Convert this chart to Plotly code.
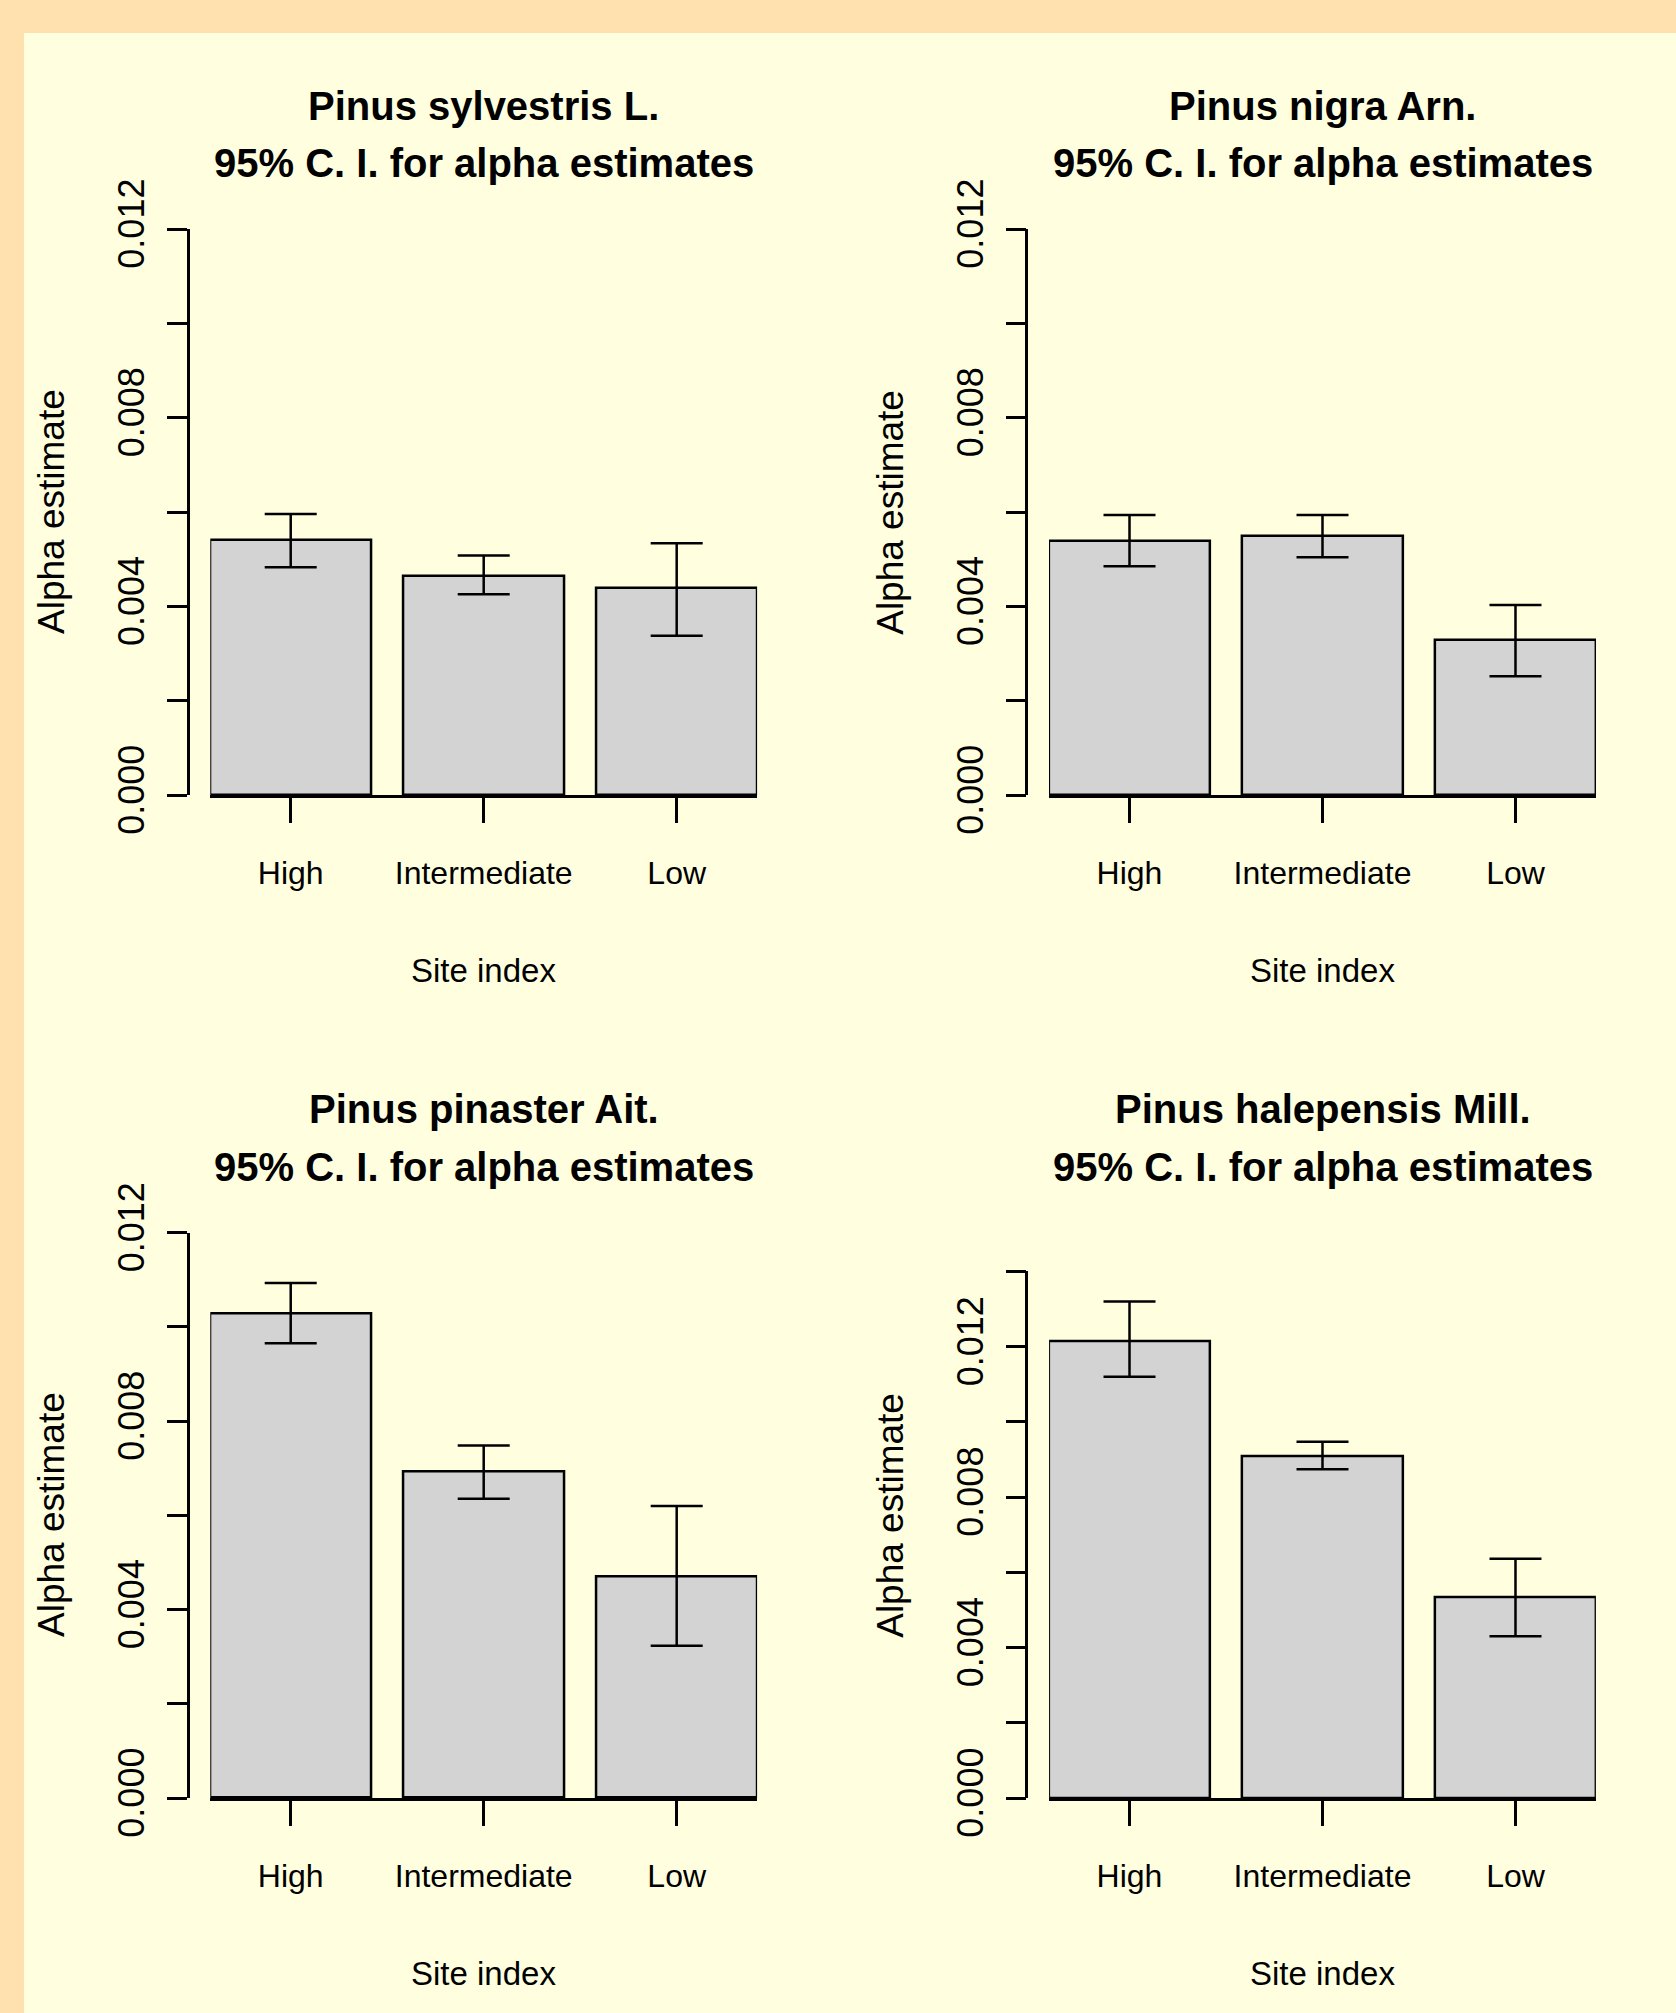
import numpy as np
import plotly.graph_objects as go

W, H = 1676, 2013

# ---------------- data ----------------
categories = ["High", "Intermediate", "Low"]
species = ["Pinus sylvestris L.", "Pinus nigra Arn.", "Pinus pinaster Ait.", "Pinus halepensis Mill."]
subtitle = "95% C. I. for alpha estimates"

sylvestris_est = [0.00541, 0.00464, 0.00438]
sylvestris_lo = [0.00483, 0.00426, 0.00338]
sylvestris_hi = [0.00596, 0.00508, 0.00534]

nigra_est = [0.00538, 0.00550, 0.00328]
nigra_lo = [0.00485, 0.00504, 0.00252]
nigra_hi = [0.00594, 0.00594, 0.00403]

pinaster_est = [0.01028, 0.00692, 0.00469]
pinaster_lo = [0.00965, 0.00635, 0.00323]
pinaster_hi = [0.01093, 0.00748, 0.00620]

halepensis_est = [0.01215, 0.00907, 0.00533]
halepensis_lo = [0.01120, 0.00874, 0.00430]
halepensis_hi = [0.01320, 0.00947, 0.00636]

y_axis_max = [0.012, 0.012, 0.012, 0.014]
y_tick_step = 0.002

x_title = "Site index"
y_title = "Alpha estimate"

panels = [
    (sylvestris_est, sylvestris_lo, sylvestris_hi),
    (nigra_est, nigra_lo, nigra_hi),
    (pinaster_est, pinaster_lo, pinaster_hi),
    (halepensis_est, halepensis_lo, halepensis_hi),
]

# ---------------- layout geometry (pixels) ----------------
col_axis_x = [187.5, 1026.3]
col_bar_left = [210.3, 1049.1]
col_bar_right = [757.1, 1595.9]
row_zero_y = [795.1, 1798.0]
row_offset = [0.0, 1003.0]
panel_top_y = [229.0, 229.0, 1232.6, 1271.3]

FONT = "Liberation Sans, Arial, sans-serif"
OUTER = "#FFE1B0"
INNER = "#FFFFE0"
BAR_W = 1 / 1.2


def px(x):
    return x / W


def py(y):
    return 1 - y / H


fig = go.Figure()
annotations = []

for i, (est, lo, hi) in enumerate(panels):
    r, c = divmod(i, 2)
    n = i + 1
    xa = "x" if n == 1 else f"x{n}"
    ya = "y" if n == 1 else f"y{n}"
    err_plus = [h - e for h, e in zip(hi, est)]
    err_minus = [e - l for e, l in zip(est, lo)]
    fig.add_trace(go.Bar(
        x=categories, y=est, width=BAR_W,
        marker=dict(color="#D3D3D3", line=dict(color="black", width=2.5)),
        error_y=dict(type="data", symmetric=False, array=err_plus, arrayminus=err_minus,
                     color="black", thickness=2.5, width=26),
        xaxis=xa, yaxis=ya, showlegend=False, hoverinfo="skip",
    ))
    ymax = y_axis_max[i]
    tickvals = list(np.round(np.arange(0, ymax + 1e-9, y_tick_step), 4))
    ticktext = [f"{v:.3f}" if k % 2 == 0 else "" for k, v in enumerate(tickvals)]
    xkey = "xaxis" if n == 1 else f"xaxis{n}"
    ykey = "yaxis" if n == 1 else f"yaxis{n}"
    fig.update_layout(**{
        xkey: dict(
            domain=[px(col_bar_left[c]), px(col_bar_right[c])],
            range=[-BAR_W / 2, len(categories) - 1 + BAR_W / 2],
            anchor=ya, showline=True, linecolor="black", linewidth=2.5,
            ticks="outside", ticklen=25, tickwidth=2.5, tickcolor="black",
            showgrid=False, zeroline=False, fixedrange=True, automargin=False,
            tickfont=dict(family=FONT, size=32, color="black"),
            ticklabelstandoff=23,
        ),
        ykey: dict(
            domain=[py(row_zero_y[r]), py(panel_top_y[i])],
            range=[0, ymax], anchor="free", position=px(col_axis_x[c]),
            showline=True, linecolor="black", linewidth=2.5,
            ticks="outside", ticklen=20, tickwidth=2.5, tickcolor="black",
            tickvals=tickvals, ticktext=ticktext, tickangle=-90,
            showgrid=False, zeroline=False, fixedrange=True, automargin=False,
            tickfont=dict(family=FONT, size=36, color="black"),
            ticklabelstandoff=8,
        ),
    })
    cx = (col_bar_left[c] + col_bar_right[c]) / 2
    off = row_offset[r]
    annotations.append(dict(text=f"<b>{species[i]}</b>", x=px(cx), y=py(105.5 + off),
                            xref="paper", yref="paper", xanchor="center", yanchor="middle",
                            showarrow=False, font=dict(family=FONT, size=40, color="black")))
    annotations.append(dict(text=f"<b>{subtitle}</b>", x=px(cx), y=py(163.5 + off),
                            xref="paper", yref="paper", xanchor="center", yanchor="middle",
                            showarrow=False, font=dict(family=FONT, size=40, color="black")))
    annotations.append(dict(text=x_title, x=px(cx), y=py(970.5 + off),
                            xref="paper", yref="paper", xanchor="center", yanchor="middle",
                            showarrow=False, font=dict(family=FONT, size=33, color="black")))
    annotations.append(dict(text=y_title, x=px(51 + 838.8 * c), y=py(512 + off),
                            xref="paper", yref="paper", xanchor="center", yanchor="middle",
                            textangle=-90, showarrow=False,
                            font=dict(family=FONT, size=37, color="black")))

fig.update_layout(
    template="none",
    width=W, height=H,
    margin=dict(l=0, r=0, t=0, b=0, pad=0),
    paper_bgcolor=OUTER, plot_bgcolor="rgba(0,0,0,0)",
    annotations=annotations,
    shapes=[dict(type="rect", xref="paper", yref="paper", x0=px(24), x1=1.02,
                 y0=-0.02, y1=py(33), fillcolor=INNER, line=dict(width=0), layer="below")],
    bargap=0,
)

fig.write_html(
    "out.html",
    config={"displayModeBar": False},
    post_script="document.body.style.margin='0px';document.body.style.overflow='hidden';",
)
